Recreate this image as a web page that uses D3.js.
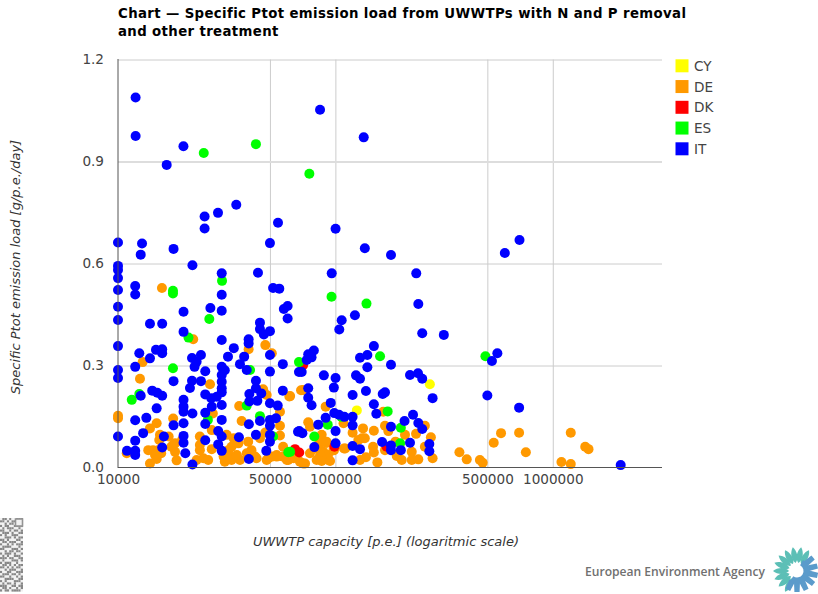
<!DOCTYPE html>
<html>
<head>
<meta charset="utf-8">
<script src="https://cdn.jsdelivr.net/npm/d3@7/dist/d3.min.js"></script>
<style>
html,body{margin:0;padding:0;background:#fff;overflow:hidden}
svg{display:block}
text{font-family:"DejaVu Sans",Verdana,sans-serif}
</style>
</head>
<body>
<svg id="chart" width="818" height="594"></svg>
<script>
const chartTitle = ["Chart — Specific Ptot emission load from UWWTPs with N and P removal", "and other treatment"];
const xAxisTitle = "UWWTP capacity [p.e.] (logaritmic scale)";
const yAxisTitle = "Specific Ptot emission load [g/p.e./day]";
const agencyName = "European Environment Agency";
const xTickValues = [10000, 50000, 100000, 500000, 1000000];
const yTickValues = [0, 0.3, 0.6, 0.9, 1.2];
const countries = ["CY", "DE", "DK", "ES", "IT"];
const countryColors = ["#ffff00", "#ff9900", "#ff0000", "#00ff00", "#0000ff"];

// [capacity in p.e., load in g/p.e./day]
const cyPoints = [[272000,.245],[125500,.168]];
const dkPoints = [[65200,.054],[68200,.044],[71000,.301],[99000,.061],[172000,.061]];
const esPoints = [[24800,.925],[43100,.951],[75900,.864],[17900,.52],[17900,.512],[30100,.549],[26300,.437],[21100,.382],[17900,.292],[40500,.287],[68000,.31],[11570,.199],[12530,.216],[39100,.182],[44980,.151],[25900,.14],[51700,.091],[60700,.045],[96000,.502],[139000,.482],[160500,.327],[174000,.165],[200000,.117],[92200,.126],[80000,.091],[106500,.149],[198500,.071],[61900,.046],[490000,.327]];
const dePoints = [[15930,.528],[12980,.31],[12620,.261],[22180,.377],[39900,.348],[47600,.36],[51000,.336],[26500,.245],[46500,.23],[48300,.213],[61400,.209],[69500,.227],[90200,.179],[36100,.181],[27300,.159],[55600,.164],[10000,.152],[10000,.145],[17940,.144],[15060,.13],[14030,.115],[37050,.137],[55600,.123],[55600,.094],[27000,.11],[47600,.103],[15600,.096],[17100,.091],[15480,.081],[23800,.091],[31600,.096],[34000,.086],[35800,.071],[39700,.076],[44980,.086],[18300,.071],[17600,.061],[19700,.081],[23800,.066],[13780,.051],[14500,.051],[15300,.051],[15800,.042],[10970,.042],[18600,.021],[14030,.012],[15060,.025],[14800,.037],[18300,.046],[23800,.051],[27000,.054],[24700,.027],[26000,.022],[23000,.022],[30600,.032],[31000,.017],[33300,.022],[35200,.032],[36400,.022],[39100,.042],[41100,.051],[43400,.027],[33300,.061],[32200,.051],[48300,.022],[51000,.032],[53700,.037],[57500,.061],[57500,.032],[60700,.022],[68700,.017],[61900,.21],[71000,.228],[75000,.133],[76400,.12],[86500,.096],[91000,.076],[83400,.066],[88000,.046],[76400,.042],[72500,.012],[82000,.022],[92800,.022],[97900,.051],[109000,.13],[120000,.102],[134000,.115],[132500,.086],[127500,.081],[136600,.086],[109500,.056],[150300,.108],[149000,.061],[150300,.044],[138200,.03],[129800,.022],[156000,.015],[169100,.123],[175200,.107],[169100,.051],[189000,.076],[191500,.034],[202000,.022],[209000,.096],[235000,.099],[224500,.046],[224500,.022],[240700,.024],[258000,.061],[275000,.089],[280000,.027],[372000,.045],[402000,.024],[462000,.022],[476000,.014],[258000,.123],[166000,.164],[535000,.073],[578000,.101],[700000,.102],[752000,.045],[1096000,.016],[1210000,.102],[1210000,.01],[1410000,.061],[1460000,.054],[31000,.037],[32800,.032],[35200,.037],[42700,.032],[49200,.027],[53700,.032],[59800,.022],[64200,.027],[71000,.012],[85000,.072],[91000,.072],[82000,.056],[92500,.037],[85000,.037],[86500,.019],[94500,.019],[98500,.051],[111000,.056],[17900,.066]];
const itPoints = [[12050,1.088],[12050,.975],[20000,.945],[16750,.89],[85000,1.052],[135000,.971],[35000,.773],[28840,.749],[25030,.738],[25030,.703],[54450,.72],[100200,.702],[10000,.662],[12900,.659],[12720,.626],[18010,.643],[50000,.66],[136600,.645],[22000,.595],[180200,.625],[601800,.631],[703000,.669],[10000,.593],[10000,.581],[10000,.557],[10000,.522],[10000,.473],[10000,.434],[10000,.357],[10000,.287],[10000,.263],[10000,.091],[30000,.571],[44050,.573],[12000,.534],[12000,.509],[30000,.508],[51700,.528],[55200,.526],[26600,.469],[30000,.461],[20020,.458],[57930,.466],[60300,.475],[60300,.438],[14030,.423],[15970,.423],[44980,.426],[44980,.407],[50000,.401],[46880,.391],[20020,.399],[30000,.375],[39900,.377],[39900,.365],[34100,.351],[14950,.346],[15970,.348],[15970,.336],[12530,.336],[14030,.321],[24080,.331],[21900,.322],[23000,.311],[22500,.296],[38050,.326],[32060,.326],[50000,.331],[36400,.304],[39100,.287],[57300,.304],[25200,.283],[30000,.296],[31000,.286],[30000,.272],[12000,.296],[50000,.282],[68000,.281],[18010,.254],[43100,.255],[21900,.255],[24080,.254],[21430,.234],[30000,.252],[30000,.233],[30000,.221],[14370,.226],[15160,.22],[15970,.211],[12720,.211],[43100,.233],[45600,.218],[57300,.226],[25200,.215],[26850,.204],[28450,.208],[40200,.216],[40200,.194],[43750,.196],[20020,.199],[20020,.179],[20020,.164],[22000,.159],[15060,.174],[30000,.184],[27000,.179],[25200,.161],[50000,.189],[54300,.182],[13500,.146],[12000,.139],[18010,.124],[20020,.13],[25200,.128],[30000,.14],[40000,.127],[44980,.137],[50000,.14],[53300,.145],[50000,.123],[67300,.105],[13050,.101],[12000,.079],[16260,.091],[20020,.093],[20020,.073],[25200,.08],[28900,.107],[30000,.091],[28900,.068],[30000,.049],[36000,.089],[43100,.096],[50000,.096],[50000,.076],[48100,.049],[11000,.049],[12000,.049],[12000,.037],[15970,.059],[20400,.042],[22000,.009],[40000,.025],[96200,.571],[235500,.571],[240700,.481],[123000,.448],[106900,.433],[104200,.406],[250900,.395],[315400,.39],[150300,.357],[140300,.331],[129800,.323],[79600,.344],[75000,.333],[77700,.324],[73800,.316],[140300,.295],[180200,.302],[70000,.281],[88500,.271],[100200,.263],[124400,.271],[129800,.261],[220400,.272],[239900,.277],[250900,.261],[75000,.233],[98400,.235],[138200,.225],[165100,.216],[169100,.221],[120000,.213],[280000,.204],[75000,.205],[77700,.183],[95200,.19],[150300,.186],[98800,.16],[103900,.155],[110000,.149],[120000,.149],[154300,.158],[90200,.146],[83400,.126],[120000,.124],[227600,.155],[208000,.137],[240700,.131],[250900,.113],[180200,.12],[68200,.107],[70500,.101],[100200,.107],[164000,.075],[220400,.073],[270500,.069],[270500,.048],[180200,.065],[180200,.051],[200000,.051],[100200,.071],[80000,.06],[120000,.063],[129800,.054],[120000,.021],[500000,.212],[700000,.176],[556000,.336],[525000,.313],[2053000,.007]];
const seriesPoints = [cyPoints, dePoints, dkPoints, esPoints, itPoints];

// decorative QR code fragment at the lower-left corner of the page
const qrRows = ["0110100111","1101011101","0010110101","1011001111","0101110010","1100101101","0111010011","1010011100","0011101011","1101000110","0110111001","1001010111","0111100010","1100011101","0010110110","1011101001","0101001110","1110110011","0100011101","1011100100","0110101011","1101010110","0010111001","1001100111","0111011010","1100100101","0011110011","1010001110","0101101001","1110011011","0110100101","1011011110"];

const svg = d3.select("#chart");
const x = d3.scaleLog().domain([10000, 3180000]).range([118, 662]);
const y = d3.scaleLinear().domain([0, 1.2]).range([467.5, 59.5]);

const gx = svg.append("g").attr("transform", "translate(0,467.5)")
  .call(d3.axisBottom(x).tickValues(xTickValues).tickFormat(d3.format("d")).tickSize(-408).tickPadding(7));
const gy = svg.append("g").attr("transform", "translate(118,0)")
  .call(d3.axisLeft(y).tickValues(yTickValues).tickFormat(d3.format(".1f")).tickSize(-544).tickPadding(14));
[gx, gy].forEach(g => {
  g.select(".domain").remove();
  g.selectAll("line").attr("stroke", "#cccccc").attr("stroke-width", 1);
  g.selectAll("text").attr("fill", "#444444").style("font-size", "13.6px");
});
gx.selectAll(".tick").filter(d => d === 10000).select("line").remove();
gy.selectAll(".tick").filter(d => d === 0).select("line").remove();
gy.selectAll(".tick").filter(d => d === 0.9).select("line").attr("stroke", "#dddddd").attr("stroke-width", 2);

countries.forEach((c, i) => {
  svg.append("g").selectAll("circle").data(seriesPoints[i]).join("circle")
    .attr("cx", d => x(d[0])).attr("cy", d => y(d[1])).attr("r", 5)
    .attr("fill", countryColors[i]);
});

svg.append("line").attr("x1", 118).attr("x2", 118).attr("y1", 59).attr("y2", 468).attr("stroke", "#555").attr("stroke-width", 1);
svg.append("line").attr("x1", 118).attr("x2", 662).attr("y1", 467.5).attr("y2", 467.5).attr("stroke", "#555").attr("stroke-width", 1);

svg.append("g").selectAll("text").data(chartTitle).join("text")
  .attr("x", 118).attr("y", (d, i) => 18 + i * 17.5)
  .attr("font-weight", "bold").style("font-size", "13.3px").style("letter-spacing", "0.37px").attr("fill", "#000").text(d => d);

svg.append("text").attr("x", 386).attr("y", 546).attr("text-anchor", "middle")
  .attr("font-style", "italic").style("font-size", "13px").attr("fill", "#333").text(xAxisTitle);
svg.append("text").attr("transform", "translate(20,267) rotate(-90)").attr("text-anchor", "middle")
  .attr("font-style", "italic").style("font-size", "13px").attr("fill", "#333").text(yAxisTitle);

const legend = svg.append("g").selectAll("g").data(countries).join("g")
  .attr("transform", (d, i) => `translate(675.5,${59.3 + i * 20.75})`);
legend.append("rect").attr("width", 13).attr("height", 13).attr("fill", (d, i) => countryColors[i]);
legend.append("text").attr("x", 18.5).attr("y", 11.5).style("font-size", "13.6px").attr("fill", "#444").text(d => d);

const qr = svg.append("g").attr("opacity", 0.78);
qrRows.forEach((row, r) => {
  qr.selectAll(null).data(row.split("")).join("rect")
    .attr("x", (d, c) => c * 2.3).attr("y", 518 + r * 2.3)
    .attr("width", 2.3).attr("height", 2.3)
    .attr("fill", d => d === "1" ? "#666" : "#eee");
});
qr.append("rect").attr("x", 15.5).attr("y", 519).attr("width", 7).attr("height", 7).attr("fill", "#eee").attr("stroke", "#777").attr("stroke-width", 1.6);

svg.append("text").attr("x", 585).attr("y", 575.5).attr("font-weight", 600)
  .style("font-family", "'Open Sans',sans-serif").style("font-size", "12.1px").attr("fill", "#707070").text(agencyName);
const logo = svg.append("g").attr("transform", "translate(797,571)");
const petal = "M0,-8 C4.4,-12 3.4,-20 0,-24 C-3.4,-20 -4.4,-12 0,-8Z";
d3.range(-150, 31, 20).forEach(a => {
  logo.append("path").attr("d", petal).attr("fill", "#5cbfb6").attr("transform", `rotate(${a})`);
});
d3.range(50, 211, 26).forEach(a => {
  logo.append("path").attr("d", "M-3,-11 L-2.6,-21 L2.6,-21 L3,-11Z").attr("fill", "#5b9bcb").attr("transform", `rotate(${a})`);
});
logo.append("path").attr("d", d3.arc()({innerRadius: 6.5, outerRadius: 12.5, startAngle: 0.5, endAngle: 3.75})).attr("fill", "#5b9bcb");
</script>
</body>
</html>
